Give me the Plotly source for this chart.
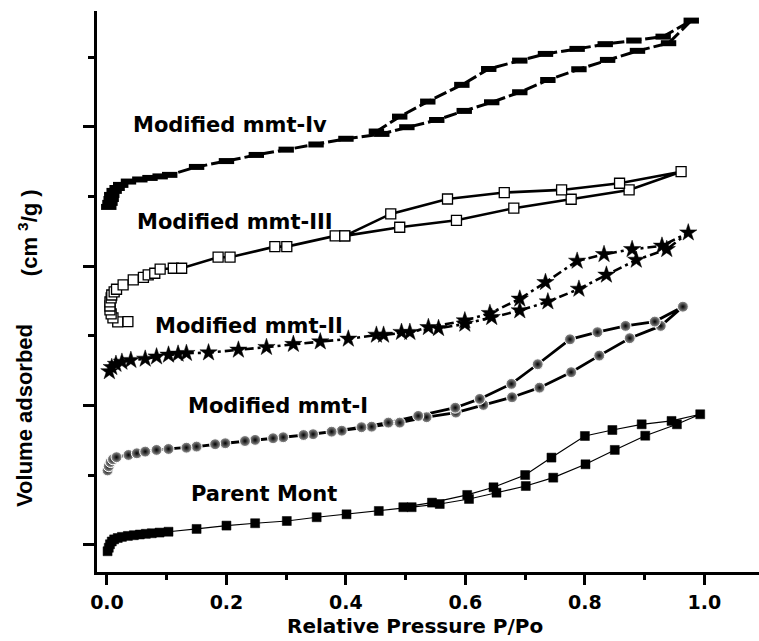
import plotly.graph_objects as go

# ---------------- data (P/Po, volume adsorbed, arbitrary units) ----------------
parent_ads_p = [0.001, 0.003, 0.005, 0.008, 0.012, 0.018, 0.025, 0.035, 0.045, 0.055, 0.065, 0.075, 0.088,
                0.103, 0.150, 0.200, 0.248, 0.301, 0.351, 0.401, 0.455, 0.510, 0.557, 0.606, 0.652, 0.701,
                0.747, 0.801, 0.850, 0.901, 0.954, 0.993]
parent_ads_v = [-4.5, -2.0, 0.5, 2.5, 4.0, 5.0, 5.8, 6.5, 7.0, 7.5, 8.0, 8.4, 8.9,
                9.5, 11.5, 13.9, 15.6, 17.2, 19.9, 22.0, 24.4, 27.1, 29.4, 33.0, 37.5, 42.3,
                48.3, 57.9, 68.2, 78.4, 86.6, 93.8]
parent_des_p = [0.945, 0.895, 0.846, 0.800, 0.744, 0.700, 0.647, 0.603, 0.544, 0.496]
parent_des_v = [89.0, 86.6, 82.5, 78.2, 62.7, 50.2, 41.4, 35.9, 30.4, 27.1]

m1_ads_p = [0.001, 0.003, 0.006, 0.010, 0.016, 0.036, 0.050, 0.064, 0.083, 0.103, 0.150, 0.198, 0.248,
            0.295, 0.345, 0.393, 0.443, 0.490, 0.535, 0.584, 0.630, 0.678, 0.724, 0.777, 0.824, 0.875,
            0.927, 0.964]
m1_ads_v = [53.5, 56.5, 59.5, 61.5, 63.0, 64.6, 65.8, 67.0, 68.2, 68.9, 70.6, 73.0, 75.4,
            77.3, 79.5, 82.0, 84.9, 87.8, 91.7, 95.0, 100.5, 106.0, 112.9, 124.0, 135.9, 148.4,
            157.2, 171.0]
m1_des_p = [0.917, 0.868, 0.821, 0.775, 0.721, 0.677, 0.624, 0.583, 0.521, 0.471, 0.426, 0.376, 0.329,
            0.278, 0.231, 0.181, 0.133]
m1_des_v = [160.3, 157.2, 152.7, 147.6, 129.7, 115.6, 104.8, 98.5, 92.6, 87.8, 84.5, 81.3, 78.9,
            76.6, 74.6, 72.3, 69.8]

m2_ads_p = [0.004, 0.008, 0.015, 0.025, 0.040, 0.064, 0.083, 0.103, 0.119, 0.133, 0.170, 0.220, 0.267,
            0.312, 0.357, 0.404, 0.451, 0.493, 0.555, 0.599, 0.644, 0.691, 0.738, 0.790, 0.836, 0.886,
            0.937, 0.973]
m2_ads_v = [124.5, 127.5, 129.8, 131.3, 132.6, 133.5, 135.1, 136.4, 137.1, 137.6, 138.0, 140.0, 141.9,
            144.1, 145.9, 147.9, 150.7, 152.7, 155.5, 158.6, 163.4, 168.2, 174.6, 183.7, 193.8, 204.5,
            212.2, 224.1]
m2_des_p = [0.929, 0.879, 0.832, 0.787, 0.734, 0.691, 0.641, 0.599, 0.538, 0.507, 0.463]
m2_des_v = [214.6, 212.2, 208.6, 203.8, 188.5, 176.6, 166.3, 161.0, 156.2, 152.7, 150.7]

m3_ads_p = [0.035, 0.018, 0.010, 0.007, 0.005, 0.005, 0.005, 0.007, 0.008, 0.012, 0.016, 0.027, 0.044,
            0.061, 0.069, 0.080, 0.089, 0.111, 0.125, 0.186, 0.206, 0.281, 0.301, 0.382, 0.398, 0.490,
            0.585, 0.681, 0.777, 0.874, 0.961]
m3_ads_v = [160.3, 160.1, 163.0, 165.8, 168.7, 171.5, 174.4, 177.3, 179.4, 181.6, 183.5, 186.6, 190.2,
            192.1, 193.8, 195.0, 197.9, 198.6, 198.6, 206.5, 206.5, 214.1, 214.1, 221.8, 221.8, 228.0,
            233.0, 241.7, 248.1, 254.8, 267.9]
m3_des_p = [0.858, 0.761, 0.665, 0.570, 0.475, 0.398]
m3_des_v = [259.6, 254.8, 252.9, 248.3, 237.6, 221.8]

m4_ads_p = [0.003, 0.005, 0.007, 0.008, 0.012, 0.017, 0.023, 0.036, 0.055, 0.072, 0.089, 0.105, 0.150,
            0.200, 0.250, 0.300, 0.350, 0.400, 0.460, 0.502, 0.552, 0.598, 0.644, 0.691, 0.738, 0.790,
            0.838, 0.888, 0.940, 0.978]
m4_ads_v = [242.6, 245.5, 248.3, 251.2, 254.1, 256.2, 258.4, 260.8, 262.3, 263.4, 264.5, 265.6, 271.3,
            275.5, 279.9, 283.7, 287.4, 291.5, 295.0, 299.8, 305.0, 311.5, 317.7, 324.9, 333.7, 341.4,
            348.1, 354.6, 360.1, 376.3]
m4_des_p = [0.931, 0.882, 0.834, 0.787, 0.734, 0.691, 0.639, 0.594, 0.537, 0.490, 0.451]
m4_des_v = [364.8, 362.0, 359.4, 356.0, 352.4, 347.6, 341.6, 330.2, 318.2, 307.4, 296.7]

x_tick_vals = [0.0, 0.2, 0.4, 0.6, 0.8, 1.0]
x_tick_text = ["0.0", "0.2", "0.4", "0.6", "0.8", "1.0"]
x_minor_vals = [0.1, 0.3, 0.5, 0.7, 0.9]
y_tick_vals = [0, 100, 200, 300]
y_minor_vals = [50, 150, 250, 350]

labels = ["Modified mmt-Iv", "Modified mmt-III", "Modified mmt-II", "Modified mmt-I", "Parent Mont"]
label_x = [0.2067, 0.215, 0.2377, 0.287, 0.262]
label_y = [301.4, 231.8, 157.2, 99.8, 36.6]

x_title = "Relative Pressure P/Po"
y_title_a = "Volume adsorbed"
y_title_b = "(cm <sup>3</sup>/g )"

# ---------------- figure ----------------
fig = go.Figure()

def loop(ap, av, dp, dv):
    return ap + dp, av + dv

# Parent Mont: filled squares, thin solid line
x, y = loop(parent_ads_p, parent_ads_v, parent_des_p, parent_des_v)
fig.add_trace(go.Scatter(x=x, y=y, mode="lines+markers",
                         line=dict(color="black", width=1.2),
                         marker=dict(symbol="square", size=9, color="black",
                                     line=dict(width=0.5, color="black"))))

# mmt-I: shaded spheres
x, y = loop(m1_ads_p, m1_ads_v, m1_des_p, m1_des_v)
fig.add_trace(go.Scatter(x=x, y=y, mode="lines+markers",
                         line=dict(color="black", width=2.8),
                         marker=dict(symbol="circle", size=11, color="#9a9a9a",
                                     gradient=dict(type="radial", color="black"),
                                     line=dict(width=1.0, color="white"))))

# mmt-II: stars, dash-dot
x, y = loop(m2_ads_p, m2_ads_v, m2_des_p, m2_des_v)
fig.add_trace(go.Scatter(x=x, y=y, mode="lines+markers",
                         line=dict(color="black", width=2.6, dash="9px,4px,3px,4px"),
                         marker=dict(symbol="star", size=13, color="black",
                                     line=dict(width=0.5, color="black"))))

# mmt-III: open squares
x, y = loop(m3_ads_p, m3_ads_v, m3_des_p, m3_des_v)
fig.add_trace(go.Scatter(x=x, y=y, mode="lines+markers",
                         line=dict(color="black", width=2.6),
                         marker=dict(symbol="square", size=10, color="white",
                                     line=dict(width=1.3, color="black"))))

# mmt-IV: filled rectangles
x, y = loop(m4_ads_p, m4_ads_v, m4_des_p, m4_des_v)
fig.add_trace(go.Scatter(x=x, y=y, mode="lines+markers",
                         line=dict(color="black", width=3, dash="13px,4px"),
                         marker=dict(symbol="line-ew", size=11, color="black",
                                     line=dict(width=6, color="black"))))

for t, lx, ly in zip(labels, label_x, label_y):
    fig.add_annotation(x=lx, y=ly, text=t, showarrow=False, xanchor="center", yanchor="middle",
                       font=dict(family="DejaVu Sans", size=21, color="black", weight="bold"))

fig.add_annotation(xref="paper", yref="paper", x=0.4804, y=-0.0963, text=x_title, showarrow=False,
                   xanchor="center", yanchor="middle",
                   font=dict(family="DejaVu Sans", size=20, color="black", weight="bold"))
fig.add_annotation(xref="paper", yref="paper", x=-0.1088, y=0.2799, text=y_title_a, showarrow=False,
                   textangle=-90, xanchor="center", yanchor="middle",
                   font=dict(family="Liberation Sans", size=22, color="black", weight="bold"))
fig.add_annotation(xref="paper", yref="paper", x=-0.104, y=0.6043, text=y_title_b, showarrow=False,
                   textangle=-90, xanchor="center", yanchor="middle",
                   font=dict(family="Liberation Sans", size=22, color="black", weight="bold"))

fig.update_layout(
    width=759, height=641, showlegend=False,
    paper_bgcolor="white", plot_bgcolor="white",
    margin=dict(l=97, r=0, t=11, b=69),
    xaxis=dict(range=[-0.0167, 1.0914], showline=True, linewidth=3, linecolor="black",
               showgrid=False, zeroline=False, ticks="outside", ticklen=10, tickwidth=2.5,
               tickcolor="black", tickvals=x_tick_vals, ticktext=x_tick_text,
               ticklabelstandoff=1,
               tickfont=dict(family="DejaVu Sans", size=19, color="black", weight="bold"),
               minor=dict(tickvals=x_minor_vals, ticks="outside", ticklen=5, tickwidth=2.5,
                          tickcolor="black", showgrid=False)),
    yaxis=dict(range=[-19.4, 383.2], showline=True, linewidth=3, linecolor="black",
               showgrid=False, zeroline=False, ticks="outside", ticklen=11, tickwidth=2.5,
               tickcolor="black", tickvals=y_tick_vals, showticklabels=False,
               minor=dict(tickvals=y_minor_vals, ticks="outside", ticklen=6, tickwidth=2.5,
                          tickcolor="black", showgrid=False)),
)

fig.write_html("out.html")
